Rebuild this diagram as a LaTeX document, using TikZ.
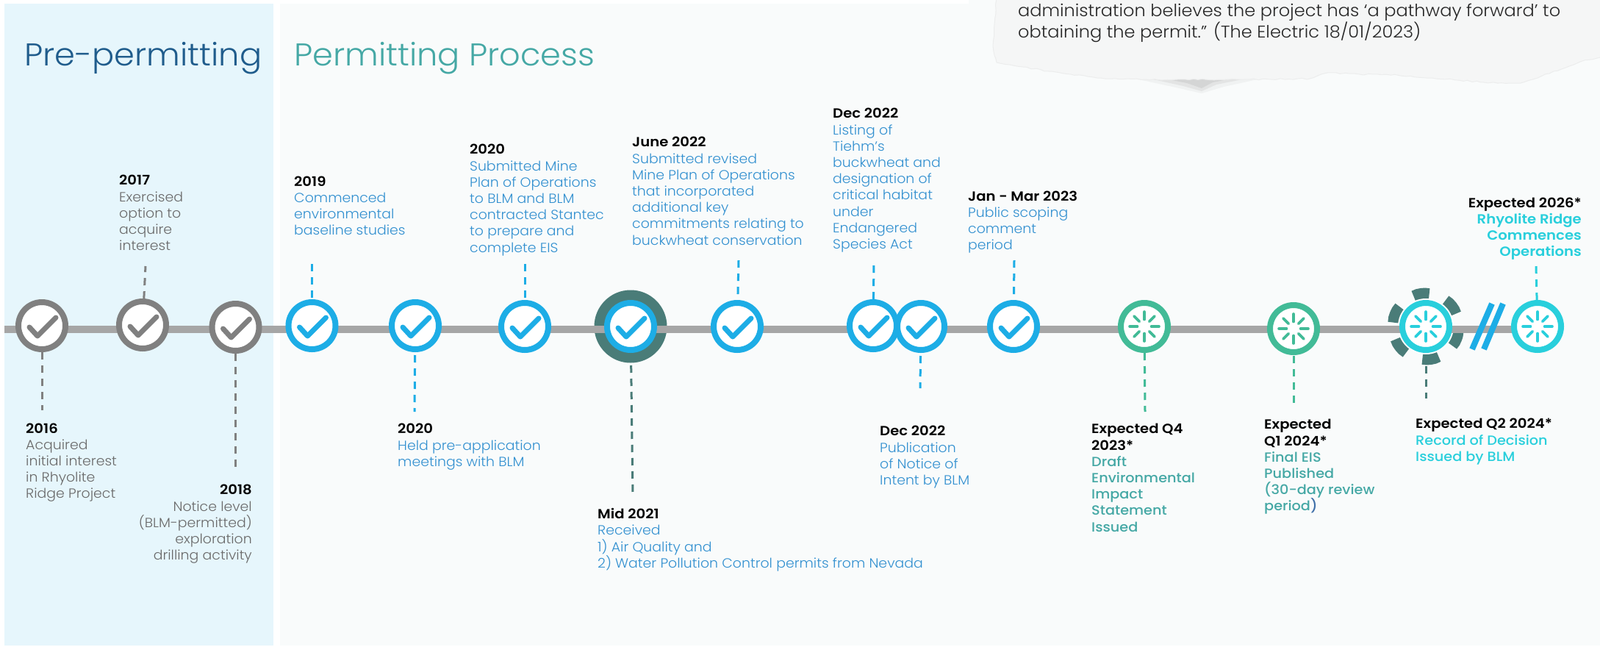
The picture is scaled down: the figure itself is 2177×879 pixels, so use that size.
\documentclass[tikz,border=0pt]{standalone}
\usepackage{fontspec}
\usetikzlibrary{decorations.pathmorphing}
\setmainfont{Poppins}[UprightFont=* Light,BoldFont=* SemiBold,FakeStretch=1.045,BoldFeatures={FakeStretch=1.085}]
\newfontfamily\medf{Poppins Medium}[FakeStretch=1.065]
\definecolor{skyB}{HTML}{1DADE6}
\definecolor{greyR}{HTML}{808080}
\definecolor{greenR}{HTML}{42BB97}
\definecolor{cyanR}{HTML}{29CFDC}
\definecolor{halo}{HTML}{4A7C78}
\definecolor{greyT}{HTML}{6A6A6A}
\definecolor{blueT}{HTML}{3290D0}
\definecolor{tealT}{HTML}{45A8A5}
\definecolor{titleB}{HTML}{1F5C8C}
\definecolor{parenT}{HTML}{3F6FA8}
\definecolor{panelA}{HTML}{E6F6FC}
\definecolor{panelB}{HTML}{F9FBFB}
\definecolor{paperF}{HTML}{F5F6F6}
\definecolor{paperE}{HTML}{ECEDED}
\newcommand\MedT[1]{{\medf #1}}
\newcommand\YearT[1]{\textbf{\textcolor{black}{#1}}}
\newcommand\ChkMark[2]{\begin{scope}[shift={(#1.center)}]
 \draw[color=#2,line width=7pt,line cap=round,line join=round] (-17,2) -- (-6,14) -- (19,-11);
\end{scope}}
\newcommand\SpinMark[2]{\begin{scope}[shift={(#1.center)}]
 \foreach \a in {0,45,...,315} \draw[color=#2,line width=3.6pt,line cap=round] (\a:9.5) -- (\a:20);
\end{scope}}
\tikzset{
 ring/.style={circle,draw=#1,fill=white,line width=8pt,minimum size=64pt,inner sep=0pt},
 dd/.style={draw=#1,line width=3pt,dash pattern=on 10pt off 8pt},
 lab/.style={inner sep=0pt,font=\fontsize{18.1}{22.2}\selectfont,text depth=0pt,yshift=-4.3pt},
 labL/.style={lab,anchor=north west,align=left,text=#1},
 labR/.style={lab,anchor=north east,align=right,text=#1},
 ttl/.style={inner sep=0pt,anchor=west,font=\fontsize{42.8}{50}\selectfont,text=#1}
}
\begin{document}
\begin{tikzpicture}[x=1pt,y=-1pt]
\useasboundingbox (0,0) rectangle (2177,879);
\fill[white] (0,0) rectangle (2177,879);
\fill[panelA] (6,5) rectangle (372,878);
\fill[panelB] (381,5) rectangle (2177,878);
\fill[panelB] (1318,0) rectangle (2177,5);
% torn paper
\fill[black!30,opacity=.12] (1540,106) -- (1600,119) -- (1635,127) -- (1665,118) -- (1720,106) -- cycle;
\fill[black!40,opacity=.15] (1560,106) -- (1610,117) -- (1635,124) -- (1655,115) -- (1700,106) -- cycle;
\fill[black!50,opacity=.15] (1580,106) -- (1615,113) -- (1635,120) -- (1650,112) -- (1680,106) -- cycle;
\filldraw[fill=paperF,draw=paperE,line width=1pt,decorate,decoration={random steps,segment length=6pt,amplitude=.9pt}] (1356,-5) -- (1351,63) -- (1356,85) -- (1392,91) -- (1427,97) -- (1493,106) -- (1558,108) -- (1640,108) -- (1700,108) -- (1782,107) -- (1806,99) -- (1850,101) -- (1901,102) -- (2019,112) -- (2069,113) -- (2108,100) -- (2150,84) -- (2182,77) -- (2182,-5) -- cycle;
\node[inner sep=0pt,anchor=north west,align=left,text=black!85,font=\fontsize{23}{27.5}\selectfont] (quote) at (1385,5) {administration believes the project has ‘a pathway forward’ to\\obtaining the permit.” (The Electric 18/01/2023)};
% titles
\node[ttl=titleB] (t1) at (33,79) {Pre-permitting};
\node[ttl=tealT] (t2) at (400,79) {Permitting Process};
% halos
\fill[halo] (858,444) circle[radius=49.5];
\begin{scope}[shift={(1940,444)}]
\foreach \a/\b in {-84/-112,-23/-53,10/36,67/96,157/127,217/187}
 \fill[halo] (\a:36) -- (\a:52) -- ({(3*\a+\b)/4}:52.5) -- ({(\a+\b)/2}:52.5) -- ({(\a+3*\b)/4}:52.5) -- (\b:52) -- (\b:36) -- cycle;
\fill[white] (0,0) circle[radius=38];
\end{scope}
% timeline
\coordinate (ls) at (6,448);
\coordinate (le) at (2092,448);
\draw[color=black!35,line width=10pt] (ls) -- (le);
% break
\coordinate (b1a) at (2030,413); \coordinate (b1b) at (2003,475);
\coordinate (b2a) at (2045,413); \coordinate (b2b) at (2019,475);
\draw[skyB,line width=8pt] (b1a) -- (b1b);
\draw[skyB,line width=8pt] (b2a) -- (b2b);
% rings
\node[ring=greyR] (c1) at (57,443) {};
\node[ring=greyR] (c2) at (194,442) {};
\node[ring=greyR] (c3) at (320.5,445) {};
\node[ring=skyB] (c4) at (424.5,443) {};
\node[ring=skyB] (c5) at (565,443) {};
\node[ring=skyB] (c6) at (714,444) {};
\node[ring=skyB] (c7) at (858,444) {};
\node[ring=skyB] (c8) at (1003,444) {};
\node[ring=skyB] (c9) at (1188,443) {};
\node[ring=skyB] (c10) at (1253,444) {};
\node[ring=skyB] (c11) at (1379,444) {};
\node[ring=greenR] (c12) at (1557,444) {};
\node[ring=greenR] (c13) at (1760,447) {};
\node[ring=cyanR] (c14) at (1940,444) {};
\node[ring=cyanR] (c15) at (2092,444) {};
\foreach \n in {c1,c2,c3} {\ChkMark{\n}{greyR}}
\foreach \n in {c4,c5,c6,c7,c8,c9,c10,c11} {\ChkMark{\n}{skyB}}
\foreach \n in {c12,c13} {\SpinMark{\n}{greenR}}
\foreach \n in {c14,c15} {\SpinMark{\n}{cyanR}}
% connector ends
\coordinate (d1) at (57,558);
\coordinate (d2) at (198,362);
\coordinate (d3) at (320.5,640);
\coordinate (d4) at (424.5,357);
\coordinate (d5) at (564,560);
\coordinate (d6) at (714,357);
\coordinate (d7) at (861,676);
\coordinate (d8) at (1005,354);
\coordinate (d9) at (1189,358);
\coordinate (d10) at (1252,528);
\coordinate (d11) at (1380,354);
\coordinate (d12) at (1558,560);
\coordinate (d13) at (1760,551);
\coordinate (d14) at (1940,542);
\coordinate (d15) at (2090,362);
\draw[dd=greyR,shorten <=36pt] (c1.center) -- (d1);
\draw[dd=greyR,shorten <=36pt] (c2.center) -- (d2);
\draw[dd=greyR,shorten <=36pt] (c3.center) -- (d3);
\draw[dd=skyB,shorten <=38pt] (c4.center) -- (d4);
\draw[dd=skyB,shorten <=40pt] (c5.center) -- (d5);
\draw[dd=skyB,shorten <=39pt] (c6.center) -- (d6);
\draw[dd=halo,shorten <=53pt] (c7.center) -- (d7);
\draw[dd=skyB,shorten <=44pt] (c8.center) -- (d8);
\draw[dd=skyB,shorten <=36pt] (c9.center) -- (d9);
\draw[dd=skyB,shorten <=40pt] (c10.center) -- (d10);
\draw[dd=skyB,shorten <=44pt] (c11.center) -- (d11);
\draw[dd=greenR,shorten <=36pt] (c12.center) -- (d12);
\draw[dd=greenR,shorten <=37pt] (c13.center) -- (d13);
\draw[dd=halo,shorten <=54pt] (c14.center) -- (d14);
\draw[dd=cyanR,shorten <=36pt] (c15.center) -- (d15);
% labels
\node[labL=greyT] (l1) at (35,571) {\YearT{2016}\\Acquired\\initial interest\\in Rhyolite\\Ridge Project};
\node[labL=greyT] (l2) at (162,234) {\YearT{2017}\\Exercised\\option to\\acquire\\interest};
\node[labR=greyT] (l3) at (343,655) {\YearT{2018}\\Notice level\\(BLM-permitted)\\exploration\\drilling activity};
\node[labL=blueT] (l4) at (400,235) {\YearT{2019}\\Commenced\\environmental\\baseline studies};
\node[labL=blueT] (l5) at (541,572) {\YearT{2020}\\Held pre-application\\meetings with BLM};
\node[labL=blueT] (l6) at (639,192) {\YearT{2020}\\Submitted Mine\\Plan of Operations\\to BLM and BLM\\contracted Stantec\\to prepare and\\complete EIS};
\node[labL=blueT] (l7) at (813,687) {\YearT{Mid 2021}\\Received\\1) Air Quality and\\2) Water Pollution Control permits from Nevada};
\node[labL=blueT] (l8) at (860,182) {\YearT{June 2022}\\Submitted revised\\Mine Plan of Operations\\that incorporated\\additional key\\commitments relating to\\buckwheat conservation};
\node[labL=blueT] (l9) at (1133,143) {\YearT{Dec 2022}\\Listing of\\Tiehm’s\\buckwheat and\\designation of\\critical habitat\\under\\Endangered\\Species Act};
\node[labL=blueT] (l11) at (1317,255) {\YearT{Jan - Mar 2023}\\Public scoping\\comment\\period};
\node[labL=blueT] (l10) at (1197,575) {\YearT{Dec 2022}\\Publication\\of Notice of\\Intent by BLM};
\node[labL=tealT] (l12) at (1485,572) {\YearT{Expected Q4}\\\YearT{2023*}\\\MedT{Draft}\\\MedT{Environmental}\\\MedT{Impact}\\\MedT{Statement}\\\MedT{Issued}};
\node[labL=tealT] (l13) at (1720,566) {\YearT{Expected}\\\YearT{Q1 2024*}\\\MedT{Final EIS}\\\MedT{Published}\\\MedT{(30-day review}\\\MedT{period\textcolor{parenT}{)}}};
\node[labL=cyanR] (l14) at (1926,565) {\YearT{Expected Q2 2024*}\\\MedT{Record of Decision}\\\MedT{Issued by BLM}};
\node[labR=cyanR] (l15) at (2152,264) {\YearT{Expected 2026*}\\\textbf{Rhyolite Ridge}\\\textbf{Commences}\\\textbf{Operations}};
\end{tikzpicture}
\end{document}
